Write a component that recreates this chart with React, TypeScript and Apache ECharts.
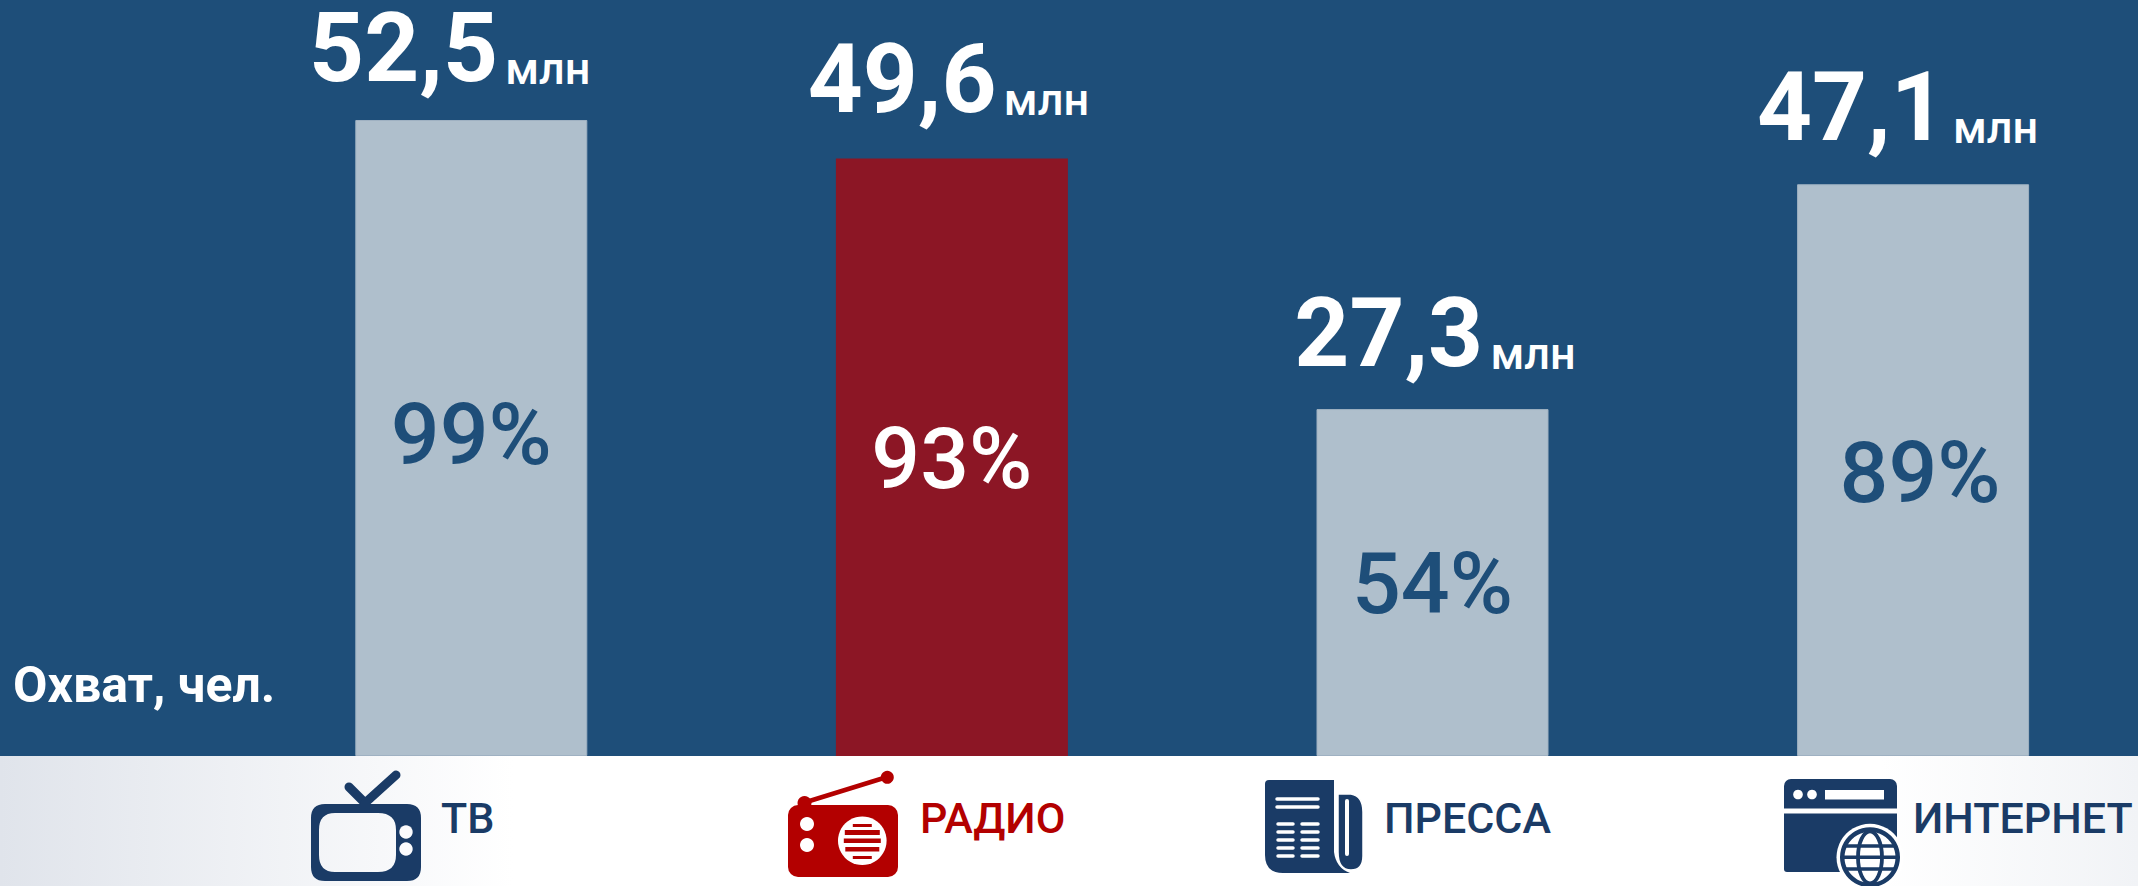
import React, { useEffect, useRef } from "react";
import * as echarts from "echarts";

const categories = ["ТВ", "РАДИО", "ПРЕССА", "ИНТЕРНЕТ"];
const reachShare = [99, 93, 54, 89];
const reachMln = [52.5, 49.6, 27.3, 47.1];

const NAVY = "#1E4E79";
const ICON = "#1A3B66";
const RED = "#B30000";
const BAR = "#AFBFCC";
const BAR_EDGE = "#9FB1C2";
const BAR_ACCENT = "#8C1625";
const FONT = "Roboto";
const HIGHLIGHT = 1;

// layout of the reach labels and category labels
const reachOffset = [[-21, -14], [-3, -22], [3, -18.5], [-15, -19.5]];
const shareOffset = [[0, -4], [0, 1], [0, 1], [7, 2]];
const catX = [441, 920, 1384, 1913];

echarts.graphic.registerShape(
  "tvBody",
  echarts.graphic.extendPath(
    "M325 804H407Q421 804 421 818V867Q421 881 407 881H325Q311 881 311 867V818Q311 804 325 804Z" +
      "M335 813Q319 813 319 830V855Q319 872 335 872H378Q396 872 396 855V830Q396 813 378 813Z",
    {}
  )
);
echarts.graphic.registerShape(
  "pressBody",
  echarts.graphic.extendPath(
    "M1269 780H1334V852Q1336 868 1350 873H1283Q1265 873 1265 855V784Q1265 780 1269 780Z",
    {}
  )
);
echarts.graphic.registerShape(
  "pressClip",
  echarts.graphic.extendPath(
    "M1338 794H1351Q1363 796 1363 812V856Q1363 870 1351 870Q1338 870 1338 852Z",
    {}
  )
);

const line = (x1: number, y1: number, x2: number, y2: number, stroke: string, lineWidth: number) => ({
  type: "line",
  shape: { x1, y1, x2, y2 },
  style: { stroke, lineWidth, lineCap: "round" },
});
const circle = (cx: number, cy: number, r: number, fill: string) => ({
  type: "circle",
  shape: { cx, cy, r },
  style: { fill },
});
const rect = (x: number, y: number, width: number, height: number, fill: string, r: any = 0) => ({
  type: "rect",
  shape: { x, y, width, height, r },
  style: { fill },
});

function icons() {
  const W = "#FFFFFF";
  const out: any[] = [];
  // TV
  out.push(line(349, 787, 365, 803, ICON, 9), line(396, 775, 365, 803, ICON, 9));
  out.push({ type: "tvBody", style: { fill: ICON } });
  out.push(circle(406, 832, 6.7, "#FBFBFD"), circle(406, 849, 6.7, "#FBFBFD"));
  // Radio
  out.push(line(803, 803, 887, 777, RED, 4.5), circle(887.3, 777.3, 6.5, RED), circle(804.5, 803, 7, RED));
  out.push(rect(788, 805, 110, 72, RED, 10));
  out.push(circle(807, 824, 7, W), circle(807, 845, 7, W));
  out.push(circle(862.3, 840.7, 24.3, W));
  const stripeY = [824, 830, 838.5, 847, 856];
  const stripeH = [3, 5, 4.5, 4.5, 3];
  const stripeW = [19, 35, 37, 34, 19];
  stripeY.forEach((y, i) => out.push(rect(862.3 - stripeW[i] / 2, y, stripeW[i], stripeH[i], RED)));
  // Press
  out.push({ type: "pressBody", style: { fill: ICON } });
  out.push({ type: "pressClip", style: { fill: ICON, stroke: W, lineWidth: 1.5 } });
  out.push(line(1347, 801, 1347, 854, W, 4));
  out.push(line(1277, 799, 1318, 799, W, 3.5), line(1277, 807, 1318, 807, W, 3.5));
  [824, 832, 840, 848, 856].forEach((y) => {
    out.push(line(1278, y, 1293, y, W, 3.5), line(1302, y, 1318, y, W, 3.5));
  });
  // Internet
  out.push(rect(1784, 779, 113, 29.5, ICON, [7, 7, 0, 0]));
  out.push(rect(1784, 813.5, 113, 58.5, ICON, [0, 0, 0, 3]));
  out.push(circle(1798, 794.5, 4.8, W), circle(1812, 794.5, 4.8, W), rect(1825, 790, 59, 9.5, W));
  out.push(circle(1870, 857.3, 33.5, W), circle(1870, 857.3, 30, ICON), circle(1870, 857.3, 25.5, W));
  out.push({
    type: "ellipse",
    shape: { cx: 1870, cy: 857.3, rx: 12, ry: 26 },
    style: { fill: "none", stroke: ICON, lineWidth: 3.8 },
  });
  out.push(
    line(1846, 846, 1894, 846, ICON, 3.5),
    line(1842, 857.3, 1898, 857.3, ICON, 3.5),
    line(1846, 869, 1894, 869, ICON, 3.5)
  );
  return out;
}

export default function App() {
  const ref = useRef<HTMLDivElement>(null);
  useEffect(() => {
    const chart = echarts.init(ref.current!, undefined, { renderer: "svg" });
    chart.setOption({
      animation: false,
      backgroundColor: NAVY,
      grid: { left: 231, top: 120, width: 1922.4, height: 636, outerBoundsMode: "none" },
      xAxis: {
        type: "category",
        data: categories,
        axisLine: { show: false },
        axisTick: { show: false },
        axisLabel: { show: false },
      },
      yAxis: { type: "value", min: 0, max: 99, show: false, splitLine: { show: false } },
      graphic: {
        elements: [
          {
            type: "rect",
            shape: { x: 0, y: 756, width: 2138, height: 130 },
            style: {
              fill: new echarts.graphic.LinearGradient(0, 0, 1, 0, [
                { offset: 0, color: "#E0E4EB" },
                { offset: 0.24, color: "#FFFFFF" },
                { offset: 0.88, color: "#FFFFFF" },
                { offset: 1, color: "#F1F3F6" },
              ]),
            },
            z: -1,
          },
          {
            type: "text",
            x: 13,
            y: 660,
            style: { text: "Охват, чел.", fill: "#FFFFFF", font: `700 50px ${FONT}` },
          },
          ...categories.map((c, i) => ({
            type: "text",
            x: catX[i],
            y: 796,
            style: {
              text: c,
              fill: i === HIGHLIGHT ? RED : ICON,
              font: `500 43px ${FONT}`,
            },
          })),
          ...icons(),
        ],
      },
      series: [
        {
          type: "bar",
          barWidth: 232,
          silent: true,
          data: reachShare.map((v, i) => ({
            value: v,
            itemStyle: i === HIGHLIGHT
              ? { color: BAR_ACCENT }
              : { color: BAR, borderColor: BAR_EDGE, borderWidth: 1 },
            label: {
              show: true,
              position: "inside",
              offset: shareOffset[i],
              formatter: `${v}%`,
              fontFamily: FONT,
              fontWeight: 500,
              fontSize: 86,
              color: i === HIGHLIGHT ? "#FFFFFF" : NAVY,
            },
          })),
        },
        {
          type: "bar",
          barWidth: 232,
          barGap: "-100%",
          silent: true,
          itemStyle: { color: "rgba(0,0,0,0)" },
          data: reachShare.map((v, i) => ({
            value: v,
            label: {
              show: true,
              position: "top",
              distance: 10,
              offset: reachOffset[i],
              formatter: `{v|${reachMln[i].toFixed(1).replace(".", ",")}} {u|млн}`,
              rich: {
                v: { fontFamily: FONT, fontWeight: 700, fontSize: 96, color: "#FFFFFF", verticalAlign: "bottom", lineHeight: 112 },
                u: { fontFamily: FONT, fontWeight: 500, fontSize: 45, color: "#FFFFFF", verticalAlign: "bottom", lineHeight: 112, padding: [0, 1, 5, 4] },
              },
            },
          })),
        },
      ],
    });
    return () => chart.dispose();
  }, []);
  return <div ref={ref} style={{ position: "absolute", left: 0, top: 0, width: 2138, height: 886 }} />;
}
